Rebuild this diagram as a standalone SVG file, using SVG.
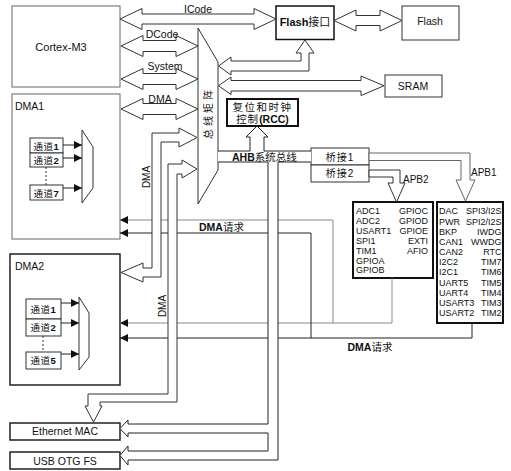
<svg xmlns="http://www.w3.org/2000/svg" width="511" height="471" viewBox="0 0 511 471">
<style>
text{font-family:'Liberation Sans','Noto Sans CJK SC',sans-serif;fill:#111}
.t{font-size:10.5px}
.s{font-size:9px}
.c{font-size:9.5px;letter-spacing:0.5px}
.b{font-weight:bold}
.m{text-anchor:middle}
.e{text-anchor:end}
.box{fill:#fff;stroke:#333;stroke-width:1}
.gbox{fill:#fff;stroke:#666;stroke-width:1}
.dbox{fill:#fff;stroke:#222;stroke-width:1.5}
.thick{fill:#fff;stroke:#111;stroke-width:2}
.hol{fill:#fff;stroke:#333;stroke-width:1}
.fill{fill:#fff;stroke:none}
.ln{fill:none;stroke:#222;stroke-width:1}
.gr{fill:none;stroke:#888;stroke-width:1}
.dot{fill:none;stroke:#333;stroke-width:1;stroke-dasharray:2,2}
</style>
<defs>
<marker id="ah" viewBox="0 0 8 8" refX="8" refY="4" markerWidth="8" markerHeight="8" markerUnits="userSpaceOnUse" orient="auto"><path d="M0,0 L8,4 L0,8 Z" fill="#111"/></marker>
</defs>
<rect width="511" height="471" fill="#fff"/>
<g id="nodes">
<g id="cortex"><rect class="gbox" x="12" y="6" width="108" height="81"/><text class="m" x="61" y="51" style="font-size:11px">Cortex-M3</text></g>
<g id="dma1"><rect class="gbox" x="12" y="94" width="108" height="145"/><text class="t" x="15" y="109.5">DMA1</text>
<rect class="box" x="30" y="138" width="33" height="15"/><text class="c m" x="46.5" y="149.5">通道<tspan class="b">1</tspan></text>
<rect class="box" x="30" y="153" width="33" height="14"/><text class="c m" x="46.5" y="163.5">通道<tspan class="b">2</tspan></text>
<rect class="box" x="30" y="185" width="33" height="15"/><text class="c m" x="46.5" y="196.5">通道<tspan class="b">7</tspan></text>
<line class="dot" x1="46" y1="167" x2="46" y2="185"/>
<polygon class="box" points="82,130 93,147 93,188 82,203"/></g>
<g id="dma2"><rect class="dbox" x="10" y="254" width="110" height="131"/><text class="t" x="15" y="270">DMA2</text>
<rect class="box" x="26" y="299" width="35" height="20"/><text class="c m" x="43.5" y="312.5">通道<tspan class="b">1</tspan></text>
<rect class="box" x="26" y="319" width="35" height="17"/><text class="c m" x="43.5" y="331">通道<tspan class="b">2</tspan></text>
<rect class="box" x="26" y="352" width="35" height="17"/><text class="c m" x="43.5" y="364">通道<tspan class="b">5</tspan></text>
<line class="dot" x1="43" y1="336" x2="43" y2="352"/>
<polygon class="box" points="79,297 89,313 89,357 79,370"/></g>
<g id="matrix"><polygon class="box" points="198,28 218,62 218,170 198,204"/>
<text class="t m" transform="translate(208,113) rotate(-90)" dy="3.5" style="font-size:10px;letter-spacing:3px">总线矩阵</text></g>
<g id="flash-if"><rect x="276" y="6" width="58" height="33.5" fill="#fff" stroke="#111" stroke-width="1.5"/><text class="m" x="305" y="26" style="font-size:11px"><tspan class="b">Flash</tspan>接口</text></g>
<g id="flash"><rect class="box" x="402" y="6" width="57" height="34"/><text class="t m" x="430" y="24.5">Flash</text></g>
<g id="sram"><rect class="box" x="385" y="75" width="57" height="22"/><text class="t m" x="413" y="90">SRAM</text></g>
<g id="rcc"><rect class="thick" x="227" y="99" width="71" height="27"/>
<text class="m" x="262.5" y="110.5" style="font-size:10.5px;letter-spacing:1.5px">复位和时钟</text>
<text class="m" x="262.5" y="123" style="font-size:10.5px;letter-spacing:1px">控制<tspan class="b" style="letter-spacing:0">(RCC)</tspan></text></g>
<g id="bridge1"><rect class="box" x="311" y="148" width="58" height="17"/><text class="m" x="340" y="161" style="font-size:10px;letter-spacing:1px">桥接1</text></g>
<g id="bridge2"><rect class="box" x="311" y="165" width="58" height="17"/><text class="m" x="340" y="177" style="font-size:10px;letter-spacing:1px">桥接2</text></g>
<g id="apb2-periph"><rect class="thick" x="353" y="202" width="80" height="76"/>
<text class="s" x="356" y="214.3">ADC1</text><text class="s" x="356" y="224.1">ADC2</text><text class="s" x="356" y="234">USART1</text><text class="s" x="356" y="243.8">SPI1</text><text class="s" x="356" y="253.6">TIM1</text><text class="s" x="356" y="263.5">GPIOA</text><text class="s" x="356" y="273.3">GPIOB</text>
<text class="s e" x="428" y="214.3">GPIOC</text><text class="s e" x="428" y="224.1">GPIOD</text><text class="s e" x="428" y="234">GPIOE</text><text class="s e" x="428" y="243.8">EXTI</text><text class="s e" x="428" y="253.6">AFIO</text></g>
<g id="apb1-periph"><rect class="thick" x="437" y="202" width="66" height="121"/>
<text class="s" x="439" y="214.3">DAC</text><text class="s" x="439" y="224.5">PWR</text><text class="s" x="439" y="234.6">BKP</text><text class="s" x="439" y="244.8">CAN1</text><text class="s" x="439" y="255">CAN2</text><text class="s" x="439" y="265.1">I2C2</text><text class="s" x="439" y="275.3">I2C1</text><text class="s" x="439" y="285.5">UART5</text><text class="s" x="439" y="295.7">UART4</text><text class="s" x="439" y="305.8">USART3</text><text class="s" x="439" y="316">USART2</text>
<text class="s e" x="501.5" y="214.3">SPI3/I2S</text><text class="s e" x="501.5" y="224.5">SPI2/I2S</text><text class="s e" x="501.5" y="234.6">IWDG</text><text class="s e" x="501.5" y="244.8">WWDG</text><text class="s e" x="501.5" y="255">RTC</text><text class="s e" x="501.5" y="265.1">TIM7</text><text class="s e" x="501.5" y="275.3">TIM6</text><text class="s e" x="501.5" y="285.5">TIM5</text><text class="s e" x="501.5" y="295.7">TIM4</text><text class="s e" x="501.5" y="305.8">TIM3</text><text class="s e" x="501.5" y="316">TIM2</text></g>
<g id="ethernet"><rect class="dbox" x="10" y="423" width="110" height="17"/><text class="m" x="65" y="435" style="font-size:10.5px">Ethernet MAC</text></g>
<g id="usb"><rect class="dbox" x="10" y="452" width="110" height="17"/><text class="m" x="65" y="464.5" style="font-size:10.5px">USB OTG FS</text></g>
</g>
<g id="connectors">
<!-- DMA request lines -->
<path class="gr" d="M392,278 V323 H120" marker-end="url(#ah)"/>
<path class="gr" d="M333,323 V220 H120" marker-end="url(#ah)"/>
<path class="ln" d="M472,323 V338 H120" marker-end="url(#ah)"/>
<path class="ln" d="M311,338 V233 H120" marker-end="url(#ah)"/>
<!-- channel arrows -->
<line class="ln" x1="63" y1="145" x2="82" y2="145" marker-end="url(#ah)"/>
<line class="ln" x1="63" y1="158" x2="82" y2="158" marker-end="url(#ah)"/>
<line class="ln" x1="63" y1="188" x2="82" y2="188" marker-end="url(#ah)"/>
<line class="ln" x1="61" y1="303" x2="79" y2="303" marker-end="url(#ah)"/>
<line class="ln" x1="61" y1="323" x2="79" y2="323" marker-end="url(#ah)"/>
<line class="ln" x1="61" y1="354" x2="79" y2="354" marker-end="url(#ah)"/>
<!-- Cortex buses -->
<path class="hol" d="M120,19 L142,8.5 L142,14 L254,14 L254,8.5 L276,19 L254,29.5 L254,24 L142,24 L142,29.5 Z"/>
<path class="hol" d="M121,46 L143,35.5 L143,40.5 L176,40.5 L176,35.5 L198,46 L176,56.5 L176,51.5 L143,51.5 L143,56.5 Z"/>
<path class="hol" d="M121,79 L143,68.5 L143,73.5 L176,73.5 L176,68.5 L198,79 L176,89.5 L176,84.5 L143,84.5 L143,89.5 Z"/>
<path class="hol" d="M121,109 L143,98.5 L143,103.5 L176,103.5 L176,98.5 L198,109 L176,119.5 L176,114.5 L143,114.5 L143,119.5 Z"/>
<!-- Flash interface to Flash -->
<path class="hol" d="M334,20.5 L356,10 L356,15.5 L380,15.5 L380,10 L402,20.5 L380,31 L380,25.5 L356,25.5 L356,31 Z"/>
<!-- matrix to Flash interface -->
<path class="hol" d="M218.5,66 L231,57 L231,61 L301,61 L301,53 L296,53 L305,40 L314,53 L309,53 L309,71 L231,71 L231,75 Z"/>
<!-- matrix to SRAM -->
<path class="hol" d="M218.5,85.75 L231,77 L231,80.5 L361,80.5 L361,76 L384,85.75 L361,95.5 L361,91 L231,91 L231,94.5 Z"/>
<!-- DMA2 bus -->
<path class="hol" d="M197,137.5 L179,128 L179,133 L152,133 L152,268 L143,268 L143,263 L121,272.5 L143,282 L143,277 L161,277 L161,142 L179,142 L179,147 Z"/>
<!-- Ethernet DMA bus -->
<path class="hol" d="M197,169 L182,160 L182,164 L168,164 L168,394 L88,394 L88,406 L85,406 L93.5,422 L102,406 L100,406 L100,402 L177,402 L177,174 L182,174 L182,178 Z"/>
<!-- AHB bus with RCC -->
<path class="fill" d="M218,151 L250,151 L250,137 L246,137 L257,126 L268,137 L264,137 L264,151 L311,151 L311,162 L218,162 Z"/>
<path class="ln" d="M218,151 L250,151 L250,137 L246,137 L257,126 L268,137 L264,137 L264,151 L311,151"/>
<path class="ln" d="M218,162 L268,162 M278,162 L311,162"/>
<!-- AHB to Ethernet / USB -->
<path class="fill" d="M268,162 L268,424 L128,424 L128,420 L120,428.5 L128,437 L128,433 L268,433 L268,451 L128,451 L128,446 L120,455.5 L128,465 L128,460 L278,460 L278,162 Z"/>
<path class="ln" d="M268,162 L268,424 L128,424 L128,420 L120,428.5 L128,437 L128,433 L268,433 L268,451 L128,451 L128,446 L120,455.5 L128,465 L128,460 L278,460 L278,162"/>
<!-- bridges to APB -->
<path d="M369,153 L470,153 L470,180 L475,180 L465.5,201 L456,180 L461,180 L461,160.5 L369,160.5 Z" fill="#fff" stroke="#666" stroke-width="1"/>
<path class="hol" d="M369,170 L400,170 L400,183 L405,183 L396.5,202 L388,183 L393,183 L393,177 L369,177 Z"/>
<!-- labels -->
<text class="t m" x="198" y="13">ICode</text>
<text class="t m" x="162" y="37.5">DCode</text>
<text class="t m" x="165" y="70">System</text>
<text class="t m" x="160" y="102.5">DMA</text>
<text class="t m" transform="translate(146,177) rotate(-90)" dy="3.5" style="font-size:10px">DMA</text>
<text class="t m" transform="translate(162,306) rotate(-90)" dy="3.5" style="font-size:10px">DMA</text>
<text class="t m" x="221.5" y="231"><tspan class="b">DMA</tspan>请求</text>
<text class="t m" x="370" y="351"><tspan class="b">DMA</tspan>请求</text>
<text x="232" y="161" style="font-size:10.5px"><tspan class="b">AHB</tspan>系统总线</text>
<text x="403" y="183" style="font-size:10px">APB2</text>
<text x="471" y="176" style="font-size:10px">APB1</text>
</g>
</svg>
